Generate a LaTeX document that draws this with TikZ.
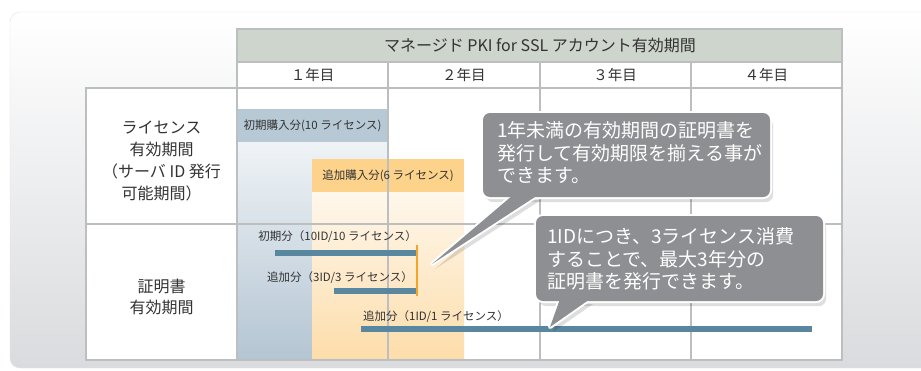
\documentclass[tikz,border=0pt]{standalone}
\usepackage{fontspec}
\setmainfont{Noto Sans CJK JP}
\usepackage{xcolor}
\usetikzlibrary{positioning}
\definecolor{panelgray}{HTML}{DADBDE}
\definecolor{panelline}{HTML}{E2E3E5}
\definecolor{gridgray}{HTML}{BDBEC0}
\definecolor{headgray}{HTML}{CDD5CC}
\definecolor{txtgray}{HTML}{333333}
\definecolor{bandblue}{HTML}{B8C9D6}
\definecolor{bluelight}{HTML}{EFF3F6}
\definecolor{bluedark}{HTML}{B4C5D3}
\definecolor{bandorange}{HTML}{FDD28A}
\definecolor{orangelight}{HTML}{FEF7EC}
\definecolor{orangedark}{HTML}{FDDDAA}
\definecolor{barblue}{HTML}{5A87A0}
\definecolor{tickorange}{HTML}{F5A42A}
\definecolor{callgray}{HTML}{8E8F93}
\tikzset{%
	grid/.style     = {draw=gridgray, line width=1.3pt},
	title/.style    = {font=\fontsize{16}{18}\selectfont, text=txtgray},
	year/.style     = {font=\fontsize{14.5}{16}\selectfont, text=txtgray},
	rowlabel/.style = {font=\fontsize{16}{22}\selectfont, align=center, text=txtgray},
	band/.style     = {font=\fontsize{11.5}{14}\selectfont, text=txtgray},
	barlabel/.style = {font=\fontsize{11.5}{14}\selectfont, text=txtgray, inner sep=1pt},
	bar/.style      = {draw=barblue, line width=5.5pt},
	tick/.style     = {draw=tickorange, line width=2.5pt},
	callshadow/.style = {fill=black, opacity=.13},
	callrim/.style  = {draw=white, line width=4pt, line join=round},
	callbody/.style = {fill=callgray},
	calltext/.style = {font=\fontsize{19}{22.5}\selectfont, align=left, text=white, inner sep=0pt},
}
\begin{document}
\begin{tikzpicture}[x=1pt, y=-1pt, node distance=151.3pt]
	\useasboundingbox (0,0) rectangle (921,370);
	% panel
	\shade[top color=white, bottom color=panelgray, rounded corners=10pt] (10,12) rectangle (945,368);
	\draw[panelline, rounded corners=10pt] (10,12) rectangle (945,368);

	% table body and fills
	\fill[white] (86,88) rectangle (842,360);
	\fill[white] (237,62) rectangle (842,88);
	\fill[headgray] (237,29) rectangle (842,62);
	\shade[top color=bluelight, bottom color=bluedark] (237,142) rectangle (388,360);
	\fill[bandblue] (237,109) rectangle (388,142);
	\shade[top color=orangelight, bottom color=orangedark] (312,192) rectangle (464,360);
	\fill[bandorange] (312,159) rectangle (464,192);

	% grid
	\draw[grid] (237,29) rectangle (842,62);
	\draw[grid] (237,62) rectangle (842,88);
	\draw[grid] (86,88) rectangle (842,360);
	\draw[grid] (86,224) -- (842,224);
	\draw[grid] (237,88) -- (237,360);
	\foreach \x in {388,540,691}
		\draw[grid] (\x,62) -- (\x,360);

	% header
	\node[title] (ttl) at (540,45.5) {マネージド PKI for SSL アカウント有効期間};
	\node[year] (y1) at (312.5,75) {１年目};
	\node[year,right of=y1] (y2) {２年目};
	\node[year,right of=y2] (y3) {３年目};
	\node[year,right of=y3] (y4) {４年目};

	% row labels
	\node[rowlabel] (lic) at (161.5,161) {ライセンス\\有効期間\\（サーバ ID 発行\\可能期間）};
	\node[rowlabel, font=\fontsize{16}{20.5}\selectfont] (crt) at (161.5,297) {証明書\\有効期間};

	% license bands
	\node[band] (ini) at (312.5,125.5) {初期購入分(10 ライセンス)};
	\node[band] (add) at (388,175.5) {追加購入分(6 ライセンス)};

	% certificate bars
	\coordinate (b1s) at (275,253);
	\coordinate (b1e) at (417,253);
	\coordinate (b2s) at (334,291);
	\coordinate (b2e) at (417,291);
	\coordinate (b3s) at (361,329);
	\coordinate (b3e) at (812,329);
	\coordinate (t1) at (417,245);
	\coordinate (t2) at (417,296);
	\draw[bar] (b1s) -- (b1e);
	\draw[bar] (b2s) -- (b2e);
	\draw[bar] (b3s) -- (b3e);
	\draw[tick] (t1) -- (t2);
	\node[barlabel, above left=9.5pt and -1pt of b1e] (l1) {初期分（10ID/10 ライセンス）};
	\node[barlabel, above left=6.5pt and 3pt of b2e] (l2) {追加分（3ID/3 ライセンス）};
	\node[barlabel, above right=5.5pt and 1pt of b3s] (l3) {追加分（1ID/1 ライセンス）};

	% callout 1
	\begin{scope}[shift={(3,5)}]
		\fill[callshadow, rounded corners=7pt] (483,113) rectangle (770,197);
		\fill[callshadow] (513,195) -- (432,264) -- (538,195) -- cycle;
	\end{scope}
	\draw[callrim, rounded corners=7pt] (483,113) rectangle (770,197);
	\draw[callrim] (513,195) -- (432,264) -- (538,195) -- cycle;
	\fill[callbody, rounded corners=7pt] (483,113) rectangle (770,197);
	\fill[callbody] (513,195) -- (432,264) -- (538,195) -- cycle;
	\node[calltext, anchor=west] (c1) at (497,153) {1年未満の有効期間の証明書を\\発行して有効期限を揃える事が\\できます。};

	% callout 2
	\begin{scope}[shift={(3,5)}]
		\fill[callshadow, rounded corners=7pt] (536,216) rectangle (823,301);
		\fill[callshadow] (560,299) -- (550,327) -- (590,299) -- cycle;
	\end{scope}
	\draw[callrim, rounded corners=7pt] (536,216) rectangle (823,301);
	\draw[callrim] (560,299) -- (550,327) -- (590,299) -- cycle;
	\fill[callbody, rounded corners=7pt] (536,216) rectangle (823,301);
	\fill[callbody] (560,299) -- (550,327) -- (590,299) -- cycle;
	\node[calltext, anchor=west] (c2) at (547,259) {1IDにつき、3ライセンス消費\\することで、最大3年分の\\証明書を発行できます。};
\end{tikzpicture}
\end{document}
